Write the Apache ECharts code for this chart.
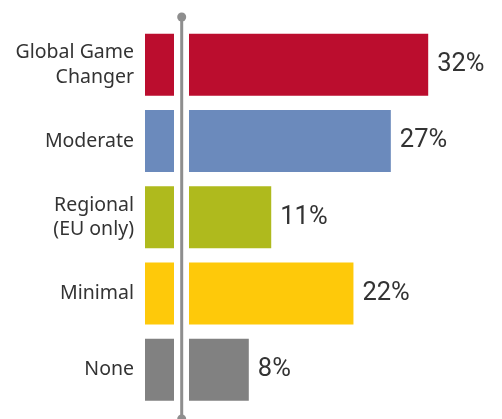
<!DOCTYPE html>
<html>
<head>
<meta charset="utf-8">
<style>
  html, body { margin: 0; padding: 0; background: #fff; }
  #chart { width: 502px; height: 419px; }
</style>
<script src="https://cdn.jsdelivr.net/npm/echarts@6/dist/echarts.min.js"></script>
</head>
<body>
<div id="chart"></div>
<script>
// Survey answers, top to bottom
const categories = ['Global Game\nChanger', 'Moderate', 'Regional\n(EU only)', 'Minimal', 'None'];
const shares = [32, 27, 11, 22, 8];
const barColors = ['#BB0D2E', '#6B8ABC', '#AFBA1D', '#FEC90A', '#818181'];
// Short fixed-length tab drawn left of the divider for each answer
const tabs = [1, 1, 1, 1, 1];

const chart = echarts.init(document.getElementById('chart'));

const gridTop = 26.7;
const gridBottom = 11;
const textColor = '#333333';

chart.setOption({
  animation: false,
  grid: [
    { left: 145, width: 29, top: gridTop, bottom: gridBottom },
    { left: 189, right: 14, top: gridTop, bottom: gridBottom }
  ],
  xAxis: [
    { gridIndex: 0, type: 'value', min: 0, max: 1, show: false },
    { gridIndex: 1, type: 'value', min: 0, max: 40, show: false }
  ],
  yAxis: [
    {
      gridIndex: 0, type: 'category', data: categories, inverse: true,
      axisLine: { show: false }, axisTick: { show: false },
      axisLabel: {
        margin: 11, color: textColor, fontFamily: 'Noto Sans', fontSize: 19.5,
        lineHeight: 24.5, align: 'right'
      }
    },
    {
      gridIndex: 1, type: 'category', data: categories, inverse: true, show: false
    }
  ],
  series: [
    {
      type: 'bar', xAxisIndex: 0, yAxisIndex: 0, data: tabs, barWidth: 62,
      itemStyle: { color: (p) => barColors[p.dataIndex] },
      silent: true
    },
    {
      type: 'bar', xAxisIndex: 1, yAxisIndex: 1, data: shares, barWidth: 62,
      itemStyle: { color: (p) => barColors[p.dataIndex] },
      label: {
        show: true, position: 'right', distance: 9,
        formatter: '{c}%', color: textColor,
        fontFamily: 'Roboto', fontWeight: 400, fontSize: 25.5
      }
    }
  ],
  graphic: [
    // divider between the tabs and the value bars
    { type: 'line', shape: { x1: 181.7, y1: 17, x2: 181.7, y2: 419 },
      style: { stroke: '#8E8E8E', lineWidth: 3 } },
    { type: 'circle', shape: { cx: 181.7, cy: 17, r: 4.5 }, style: { fill: '#8E8E8E' } },
    { type: 'circle', shape: { cx: 181.7, cy: 419, r: 4.5 }, style: { fill: '#8E8E8E' } }
  ]
});
</script>
</body>
</html>
